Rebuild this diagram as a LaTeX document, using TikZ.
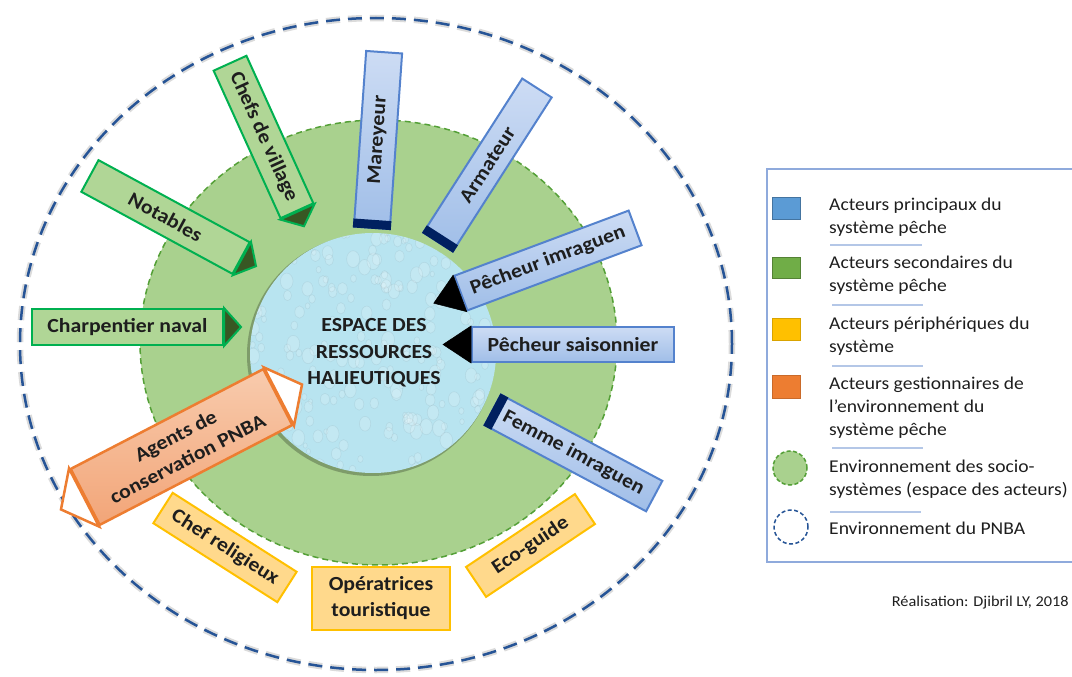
\documentclass[tikz,border=0pt]{standalone}
\usepackage{fontspec}
\setmainfont{Carlito}[FakeStretch=1.087]
\usetikzlibrary{calc}

\definecolor{actblue}{RGB}{84,130,205}
\definecolor{actbluetop}{RGB}{205,220,244}
\definecolor{actbluebot}{RGB}{160,190,232}
\definecolor{navy}{RGB}{0,32,96}
\definecolor{actgreen}{RGB}{0,176,80}
\definecolor{actgreenfill}{RGB}{176,214,150}
\definecolor{darkolive}{RGB}{56,87,35}
\definecolor{actyellow}{RGB}{255,192,0}
\definecolor{actyellowfill}{RGB}{255,217,140}
\definecolor{actorange}{RGB}{237,125,49}
\definecolor{actorangetop}{RGB}{248,203,173}
\definecolor{actorangebot}{RGB}{242,165,120}
\definecolor{socio}{RGB}{169,209,142}
\definecolor{sociodash}{RGB}{84,160,55}
\definecolor{pnba}{RGB}{38,84,150}
\definecolor{water}{RGB}{184,228,240}
\definecolor{legline}{RGB}{143,170,220}
\definecolor{legsepc}{RGB}{180,199,231}
\definecolor{legblue}{RGB}{91,155,213}
\definecolor{leggreen}{RGB}{112,173,71}
\definecolor{inktext}{RGB}{30,30,30}

\tikzset{
  actor/.style={line width=2pt, minimum height=36pt, inner sep=0pt, text=inktext,
    font=\bfseries\fontsize{20}{26}\selectfont, align=center},
  mainactor/.style={actor, draw=actblue, top color=actbluetop, bottom color=actbluebot},
  secactor/.style={actor, draw=actgreen, fill=actgreenfill},
  periactor/.style={actor, draw=actyellow, fill=actyellowfill},
  gestactor/.style={actor, draw=actorange, line width=2.5pt, top color=actorangetop, bottom color=actorangebot},
  legtext/.style={anchor=west, inner sep=0pt, align=left, text=inktext,
    font=\fontsize{18}{23}\selectfont},
  legsep/.style={legsepc, line width=1.5pt},
}

% dark band at the inner end of a box
\newcommand{\navyend}[1]{%
  \fill[navy] (#1.south west) -- (#1.north west)
    -- ($(#1.north west)!9pt!(#1.north east)$)
    -- ($(#1.south west)!9pt!(#1.south east)$) -- cycle;}
% triangular tip: style, node, side, length
\newcommand{\actortip}[4]{%
  \filldraw[#1] (#2.north #3) -- ($(#2.#3)!-#4!(#2.center)$) -- (#2.south #3) -- cycle;}

\begin{document}
\begin{tikzpicture}[x=1pt, y=-1pt]
\useasboundingbox (0,0) rectangle (1072,677);

% environnement du PNBA
\draw[gray!28, line width=6.5pt, dash pattern=on 14pt off 8pt]
  (376,344) ellipse [x radius=356pt, y radius=326pt];
\draw[pnba, line width=2.5pt, dash pattern=on 14pt off 8pt]
  (376,344) ellipse [x radius=356pt, y radius=326pt];

% socio-systemes
\filldraw[fill=socio, draw=sociodash, line width=1.5pt, dash pattern=on 6pt off 4pt]
  (378.5,342.5) ellipse [x radius=238.5pt, y radius=222.5pt];

% ressources halieutiques
\fill[black, opacity=.25] (371,355) ellipse [x radius=124pt, y radius=121pt];
\fill[water] (373,353) ellipse [x radius=123pt, y radius=120pt];
\begin{scope}
  \clip (373,353) ellipse [x radius=123pt, y radius=120pt];
  \pgfmathsetseed{11}
  \foreach \i in {1,...,220}{
    \pgfmathsetmacro{\dx}{250+rnd*246}
    \pgfmathsetmacro{\dy}{233+rnd*240}
    \pgfmathsetmacro{\dr}{2+rnd*4.5}
    \pgfmathsetmacro{\dq}{1.3*\dr}
    \filldraw[fill=white, fill opacity=.16, draw=water!55!black, draw opacity=.12, line width=.6pt]
      (\dx,\dy) ellipse [x radius=\dr pt, y radius=\dq pt];
  }
\end{scope}
\node[font=\bfseries\fontsize{20}{26.5}\selectfont, text=inktext, align=center]
  (espace) at (374,353) {ESPACE DES\\RESSOURCES\\HALIEUTIQUES};

% acteurs principaux
\node[mainactor, minimum width=176pt, rotate=86] (mareyeur) at (378,140) {Mareyeur};
\navyend{mareyeur}
\node[mainactor, minimum width=183pt, minimum height=35pt, rotate=57.3] (armateur) at (487.5,165) {Armateur};
\navyend{armateur}
\node[mainactor, minimum width=186pt, minimum height=37pt, rotate=20.5] (pimraguen) at (548,260.5) {Pêcheur imraguen};
\actortip{fill=black, draw=black, line width=.5pt}{pimraguen}{west}{28pt}
\node[mainactor, minimum width=202pt, minimum height=35pt] (psaison) at (573,344.5) {Pêcheur saisonnier};
\actortip{fill=black, draw=black, line width=.5pt}{psaison}{west}{28pt}
\node[mainactor, minimum width=183pt, minimum height=34.5pt, rotate=-28.1] (femme) at (573.5,453) {Femme imraguen};
\navyend{femme}

% acteurs secondaires
\node[secactor, minimum width=172pt, rotate=-28.5] (notables) at (165.5,217) {Notables};
\actortip{fill=darkolive, draw=actgreen, line width=2pt}{notables}{east}{16pt}
\node[secactor, minimum width=162pt, rotate=-65.6] (chefs) at (263.5,137) {Chefs de village};
\actortip{fill=darkolive, draw=actgreen, line width=2pt}{chefs}{east}{16pt}
\node[secactor, minimum width=191pt] (charpentier) at (127.5,327) {Charpentier naval};
\actortip{fill=darkolive, draw=actgreen, line width=2pt}{charpentier}{east}{17pt}

% acteurs gestionnaires
\node[gestactor, minimum width=217pt, minimum height=63pt, rotate=27.4] (agents) at (181.5,447) {Agents de\\conservation PNBA};
\actortip{fill=white, draw=actorange, line width=2.5pt}{agents}{east}{26pt}
\actortip{fill=white, draw=actorange, line width=2.5pt}{agents}{west}{26pt}

% acteurs peripheriques
\node[periactor, minimum width=147pt, rotate=-32.5] (religieux) at (225,547.5) {Chef religieux};
\node[periactor, minimum width=138pt, minimum height=63pt] (operatrices) at (381,598.5) {Opératrices\\touristique};
\node[periactor, minimum width=131pt, rotate=33.8] (ecoguide) at (530.5,545.5) {Eco-guide};

% legende
\draw[legline, line width=1.5pt] (767,169) rectangle (1090,562);
\filldraw[fill=legblue, draw=legblue!75!black, line width=.8pt] (772,197) rectangle (800,219);
\node[legtext] (lgmain) at (829,217) {Acteurs principaux du\\système pêche};
\draw[legsep] (830,245) -- (922,245);
\filldraw[fill=leggreen, draw=leggreen!75!black, line width=.8pt] (772,257) rectangle (800,278);
\node[legtext] (lgsec) at (829,275) {Acteurs secondaires du\\système pêche};
\draw[legsep] (832,305) -- (923,305);
\filldraw[fill=actyellow, draw=actyellow!85!black, line width=.8pt] (772,318) rectangle (800,340);
\node[legtext] (lgperi) at (829,336) {Acteurs périphériques du\\système};
\draw[legsep] (832,366) -- (923,366);
\filldraw[fill=actorange, draw=actorange!85!black, line width=.8pt] (772,375) rectangle (800,398);
\node[legtext] (lggest) at (829,408) {Acteurs gestionnaires de\\l’environnement du\\système pêche};
\draw[legsep] (832,448) -- (923,448);
\filldraw[fill=socio, draw=sociodash, line width=1.5pt, dash pattern=on 4pt off 2.5pt] (790,468) circle (17pt);
\node[legtext] (lgsocio) at (829,479.5) {Environnement des socio-\\systèmes (espace des acteurs)};
\draw[legsep] (830,512) -- (921,512);
\draw[pnba, line width=1.5pt, dash pattern=on 4pt off 2.5pt] (791,527) circle (17pt);
\node[legtext] (lgpnba) at (829,528) {Environnement du PNBA};

\node[anchor=east, inner sep=0pt, text=inktext, font=\fontsize{15}{18}\selectfont]
  (credit) at (1069,603) {Réalisation: Djibril LY, 2018};
\end{tikzpicture}
\end{document}
